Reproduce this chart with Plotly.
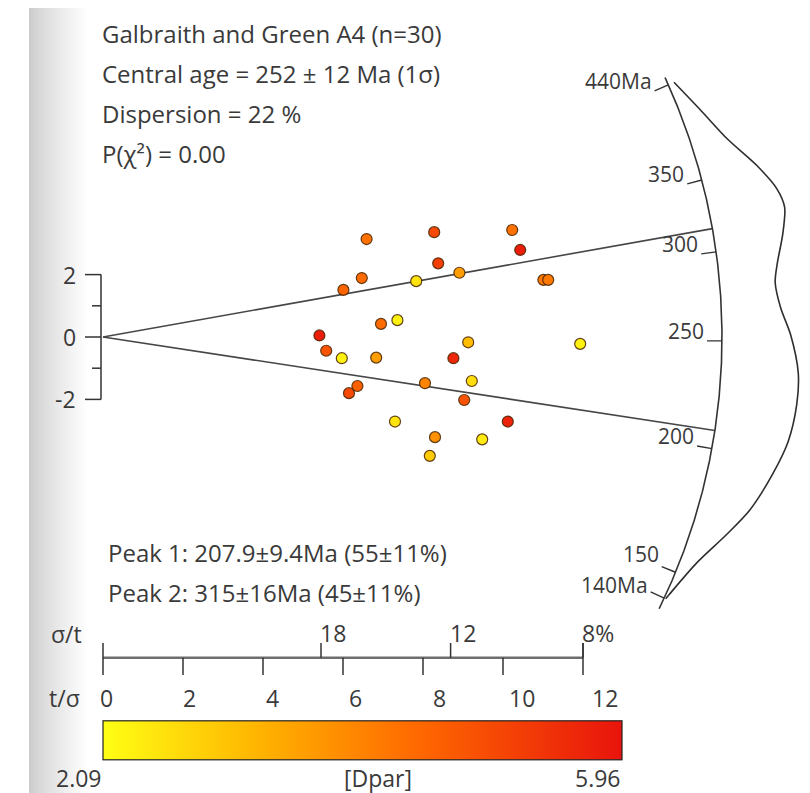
import numpy as np
import plotly.graph_objects as go

# ---------------- data ----------------
precision = [6.59, 8.28, 10.23, 10.43, 8.38, 6.47, 6.01, 7.83, 8.91, 11.01, 11.13,
             6.95, 7.36, 5.41, 5.58, 5.97, 6.83, 9.13, 8.76, 11.93, 9.22, 6.36,
             6.15, 8.05, 9.03, 10.12, 7.30, 8.30, 9.48, 8.17]
z_score = [3.14, 3.36, 3.43, 2.79, 2.36, 1.89, 1.51, 1.79, 2.06, 1.83, 1.83,
           0.42, 0.54, 0.05, -0.44, -0.68, -0.66, -0.17, -0.68, -0.22, -1.41, -1.57,
           -1.80, -1.48, -2.02, -2.71, -2.71, -3.21, -3.28, -3.81]
dpar = [4.3, 5.0, 4.3, 5.8, 5.2, 4.4, 4.5, 2.5, 3.6, 4.2, 4.2,
        4.4, 2.3, 5.8, 4.8, 2.3, 3.6, 3.1, 5.6, 2.3, 2.6, 4.6,
        5.0, 4.0, 4.8, 5.7, 2.5, 3.8, 2.4, 2.9]
dpar_range = [2.09, 5.96]

central_age = 252.0
peak_ages = [207.9, 315.0]
arc_tick_ages = [440, 350, 300, 250, 200, 150, 140]
arc_tick_labels = ["440Ma", "350", "300", "250", "200", "150", "140Ma"]

kde_ages = [440, 405, 375, 350, 332, 320, 305, 289, 279, 266, 253, 236,
            223, 208, 195, 180, 169, 156, 142, 140]
kde_density = [0.08, 0.26, 0.46, 0.73, 0.91, 0.96, 0.88, 0.76, 0.71, 0.76, 0.88,
               0.99, 1.00, 0.95, 0.83, 0.65, 0.45, 0.21, 0.04, 0.02]

t_sigma_ticks = [0, 2, 4, 6, 8, 10, 12]
sigma_t_labels = ["18", "12", "8%"]
sigma_t_pos = [5.45, 8.69, 12.0]
y_major = [-2, 0, 2]
y_minor = [-1, 1]

info_lines = ["Galbraith and Green A4 (n=30)",
              "Central age = 252 ± 12 Ma (1σ)",
              "Dispersion = 22 %",
              "P(χ²) = 0.00"]
peak_lines = ["Peak 1: 207.9±9.4Ma (55±11%)",
              "Peak 2: 315±16Ma (45±11%)"]

# ---------------- layout geometry ----------------
W, H = 810, 793
OX, OY = 103.0, 337.0      # pixel position of the radial origin
SX, SY = 40.0, 31.2        # pixels per unit on x (t/sigma) and y (z)
R_ARC = 619.0              # arc radius in pixels
KDE_PX = 78.0              # pixel height of the density maximum
LAM = 1.55125e-4

def px2x(p):
    return (p - OX) / SX

def py2y(p):
    return (OY - p) / SY

def zt(t):
    return np.log(np.exp(LAM * np.asarray(t, dtype=float)) - 1.0)

def slope(t):
    return zt(t) - zt(central_age)

def radial_point(s, r_px):
    s = np.asarray(s, dtype=float)
    k = r_px / np.hypot(SX, SY * s)
    return k, k * s

FONT = "Open Sans"
TXT = "#3a3a3a"
FS_TEXT = 24
FS_NUM = 23
FS_ARC = 21
fig = go.Figure()
shapes = []
annotations = []

def note(x, y, text, xa="left", ya="middle", size=FS_NUM, xs=0, ys=0):
    annotations.append(dict(x=x, y=y, xref="x", yref="y", text=text,
                            showarrow=False, xanchor=xa, yanchor=ya,
                            xshift=xs, yshift=ys, borderpad=0,
                            font=dict(family=FONT, size=size, color=TXT)))

# left grey gradient strip
n_strip = 30
for i in range(n_strip):
    f = i / (n_strip - 1)
    g = int(round(204 + (255 - 204) * f ** 0.8))
    x0 = 29 + i * 2.0
    shapes.append(dict(type="rect", xref="x", yref="y", layer="below",
                       x0=px2x(x0), x1=px2x(x0 + 2.2), y0=py2y(H), y1=py2y(8),
                       line=dict(width=0), fillcolor=f"rgb({g},{g},{g})"))

# radial lines for the peaks
for a in peak_ages:
    xe, ye = radial_point(slope(a), R_ARC)
    fig.add_trace(go.Scatter(x=[0, float(xe)], y=[0, float(ye)], mode="lines",
                             line=dict(color="#474747", width=1.6),
                             hoverinfo="skip", showlegend=False))

# arc
s_lo = float(slope(min(arc_tick_ages))) - 0.03
s_hi = float(slope(max(arc_tick_ages))) + 0.02
ss = np.linspace(s_lo, s_hi, 300)
ax_, ay_ = radial_point(ss, R_ARC)
fig.add_trace(go.Scatter(x=ax_, y=ay_, mode="lines",
                         line=dict(color="#333333", width=1.6),
                         hoverinfo="skip", showlegend=False))

# arc ticks and labels (small vertical nudges keep 150/140Ma apart)
label_nudge = {"150": 3, "140Ma": -3}
for a, lab in zip(arc_tick_ages, arc_tick_labels):
    s = float(slope(a))
    x1, y1 = radial_point(s, R_ARC)
    x2, y2 = radial_point(s, R_ARC - 15)
    fig.add_trace(go.Scatter(x=[x1, x2], y=[y1, y2], mode="lines",
                             line=dict(color="#333333", width=1.4),
                             hoverinfo="skip", showlegend=False))
    note(float(x2), float(y2), lab, xa="right", ya="bottom", size=FS_ARC,
         xs=-2, ys=-5 + label_nudge.get(lab, 0))

# KDE curve
kx, ky = radial_point(slope(kde_ages), R_ARC + KDE_PX * np.asarray(kde_density))
fig.add_trace(go.Scatter(x=kx, y=ky, mode="lines",
                         line=dict(color="#2e2e2e", width=1.6, shape="spline",
                                   smoothing=0.8),
                         hoverinfo="skip", showlegend=False))

# left z axis
xa = px2x(101)
shapes.append(dict(type="line", xref="x", yref="y", x0=xa, x1=xa, y0=-2, y1=2,
                   line=dict(color="#333333", width=1.5)))
for v in y_major:
    shapes.append(dict(type="line", xref="x", yref="y", x0=px2x(85), x1=xa,
                       y0=v, y1=v, line=dict(color="#333333", width=1.5)))
    note(px2x(77), v, str(v), xa="right")
for v in y_minor:
    shapes.append(dict(type="line", xref="x", yref="y", x0=px2x(92), x1=xa,
                       y0=v, y1=v, line=dict(color="#333333", width=1.5)))

# bottom precision axis
yb = py2y(657.7)
shapes.append(dict(type="line", xref="x", yref="y", x0=0, x1=12, y0=yb, y1=yb,
                   line=dict(color="#6e6e6e", width=2.5)))
for v in t_sigma_ticks:
    top = py2y(643) if v in (0, 12) else yb
    shapes.append(dict(type="line", xref="x", yref="y", x0=v, x1=v,
                       y0=py2y(675), y1=top, line=dict(color="#333333", width=1.5)))
    note(v * 1.04 + 0.08, py2y(698), str(v), xa="center")
for p, lab in zip(sigma_t_pos, sigma_t_labels):
    shapes.append(dict(type="line", xref="x", yref="y", x0=p, x1=p,
                       y0=yb, y1=py2y(643), line=dict(color="#333333", width=1.5)))
    note(p, py2y(633), lab, xa="left", xs=-2)
note(px2x(66), py2y(634), "σ/t", xa="center")
note(px2x(64), py2y(698), "t/σ", xa="center")

# text blocks
for i, t in enumerate(info_lines):
    note(px2x(101), py2y(33 + 40 * i), t, xa="left", size=FS_TEXT)
for i, t in enumerate(peak_lines):
    note(px2x(107), py2y(552 + 40 * i), t, xa="left", size=FS_TEXT)

# colour-bar labels
note(px2x(103), py2y(778), "2.09", xa="right")
note(px2x(378), py2y(778), "[Dpar]", xa="center")
note(px2x(622), py2y(778), "5.96", xa="right")

# data points with the Dpar colour bar
cscale = [[0.0, "#ffff14"], [0.3, "#ffb400"], [0.6, "#ff6a00"], [1.0, "#e8140c"]]
cb_left, cb_right, cb_top, cb_bot = 103.0, 622.0, 722.0, 761.0
fig.add_trace(go.Scatter(
    x=precision, y=z_score, mode="markers", showlegend=False,
    marker=dict(size=11, color=dpar, colorscale=cscale,
                cmin=dpar_range[0], cmax=dpar_range[1],
                line=dict(color="rgba(70,35,0,0.85)", width=1.2),
                colorbar=dict(orientation="h", thicknessmode="pixels",
                              thickness=cb_bot - cb_top, lenmode="fraction",
                              len=(cb_right - cb_left) / W,
                              x=(cb_left + cb_right) / 2 / W, xanchor="center",
                              y=1 - cb_bot / H, yanchor="bottom",
                              xpad=0, ypad=0, outlinewidth=1.2,
                              outlinecolor="#222222", showticklabels=False,
                              ticks="")),
    hovertemplate="t/σ=%{x}<br>z=%{y}<br>Dpar=%{marker.color}<extra></extra>"))

fig.update_layout(
    width=W, height=H, autosize=False,
    margin=dict(l=0, r=0, t=0, b=0),
    paper_bgcolor="white", plot_bgcolor="white",
    xaxis=dict(range=[px2x(0), px2x(W)], visible=False, fixedrange=True),
    yaxis=dict(range=[py2y(H), py2y(0)], visible=False, fixedrange=True),
    shapes=shapes, annotations=annotations,
)
fig.write_html("out.html")
